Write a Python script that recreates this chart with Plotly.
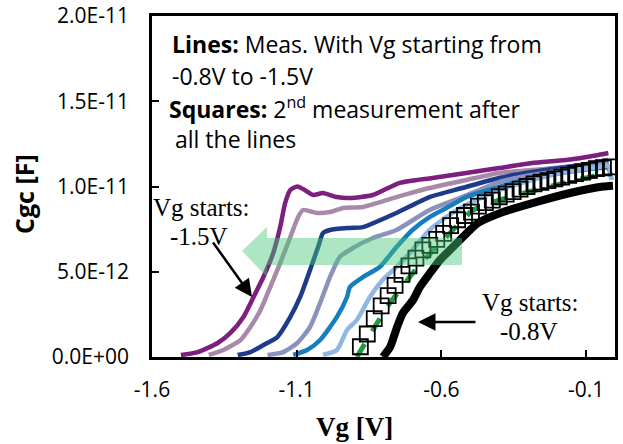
import plotly.graph_objects as go

# ---------------- data (Vg in V, Cgc in units of 1e-12 F) ----------------
vg_p15 = [-1.500, -1.442, -1.373, -1.329, -1.284, -1.249, -1.215, -1.181, -1.157, -1.140, -1.122, -1.098,
          -1.078, -1.043, -1.009, -0.961, -0.916, -0.837, -0.744, -0.631, -0.514, -0.401, -0.287, -0.170,
          -0.057, -0.023]
c_p15 = [0.12, 0.29, 0.82, 1.41, 2.35, 3.52, 4.69, 6.10, 7.62, 9.03, 9.80, 10.00,
         9.85, 9.50, 9.62, 9.38, 9.33, 9.50, 10.21, 10.50, 10.79, 11.08, 11.38, 11.55,
         11.85, 11.96]

vg_p14 = [-1.404, -1.353, -1.294, -1.260, -1.225, -1.191, -1.157, -1.122, -1.095, -1.078, -1.030, -0.985,
          -0.940, -0.871, -0.755, -0.641, -0.514, -0.401, -0.287, -0.170, -0.057, -0.023]
c_p14 = [0.12, 0.41, 1.00, 1.76, 2.76, 4.11, 5.51, 7.04, 8.21, 8.62, 8.45, 8.50,
         8.74, 8.80, 9.38, 9.91, 10.38, 10.79, 10.97, 11.14, 11.44, 11.55]

vg_p13 = [-1.304, -1.260, -1.215, -1.167, -1.122, -1.088, -1.054, -1.026, -1.009, -0.985, -0.916, -0.871,
          -0.755, -0.641, -0.528, -0.401, -0.287, -0.057, -0.023]
c_p13 = [0.12, 0.29, 0.70, 1.17, 2.35, 3.52, 5.10, 6.45, 7.27, 7.45, 7.57, 7.62,
         8.45, 9.38, 9.91, 10.50, 10.85, 11.38, 11.44]

vg_p12 = [-1.201, -1.146, -1.098, -1.054, -1.019, -0.985, -0.951, -0.906, -0.837, -0.755, -0.641, -0.528,
          -0.401, -0.287, -0.057, -0.023]
c_p12 = [0.12, 0.29, 0.82, 1.76, 3.17, 4.69, 5.87, 6.39, 6.98, 7.45, 8.62, 9.38,
         10.26, 10.67, 11.26, 11.32]

vg_p11 = [-1.112, -1.064, -1.019, -0.961, -0.926, -0.916, -0.871, -0.813, -0.755, -0.700, -0.641, -0.583,
          -0.514, -0.401, -0.287, -0.057, -0.023, -0.012]
c_p11 = [0.12, 0.41, 1.00, 2.35, 3.52, 4.11, 4.69, 5.28, 6.45, 7.45, 8.21, 8.74,
         9.38, 9.97, 10.50, 11.08, 11.08, 10.38]

vg_p10 = [-1.009, -0.961, -0.926, -0.892, -0.847, -0.803, -0.755, -0.700, -0.641, -0.583, -0.528, -0.401,
          -0.287, -0.170, -0.057, -0.023, -0.012]
c_p10 = [0.12, 0.41, 1.58, 2.17, 3.52, 4.52, 5.28, 6.28, 7.45, 8.21, 8.80, 9.79,
         10.38, 10.85, 11.14, 11.20, 10.38]

vg_p09 = [-0.892, -0.857, -0.822, -0.788, -0.743, -0.698, -0.650, -0.594, -0.536, -0.491, -0.400, -0.250,
          -0.100, -0.020]
c_p09 = [0.0, 1.00, 1.99, 2.93, 3.93, 4.93, 5.87, 6.86, 7.86, 8.62, 9.20, 9.90,
         10.50, 10.80]

vg_p08 = [-0.802, -0.777, -0.753, -0.733, -0.698, -0.674, -0.639, -0.605, -0.570, -0.536, -0.501, -0.473,
          -0.387, -0.270, -0.155, -0.041, -0.007]
c_p08 = [0.0, 0.59, 1.76, 2.58, 3.34, 4.11, 4.93, 5.69, 6.28, 6.86, 7.45, 7.86,
         8.50, 9.10, 9.62, 10.00, 10.05]

vg_sq = [-0.880, -0.856, -0.832, -0.808, -0.784, -0.760, -0.736, -0.712, -0.688, -0.664, -0.640, -0.616,
         -0.592, -0.568, -0.544, -0.520, -0.496, -0.472, -0.448, -0.424, -0.400, -0.376, -0.352, -0.328,
         -0.304, -0.280, -0.256, -0.232, -0.208, -0.184, -0.160, -0.136, -0.112, -0.088, -0.064, -0.040,
         -0.016]
c_sq = [0.6, 1.35, 2.25, 3.0, 3.6, 4.2, 4.85, 5.35, 5.8, 6.28, 6.55, 6.9,
        7.25, 7.7, 8.05, 8.3, 8.5, 8.85, 9.05, 9.2, 9.4, 9.55, 9.7, 9.85,
        10.0, 10.15, 10.25, 10.35, 10.45, 10.55, 10.65, 10.75, 10.85, 10.95, 11.05, 11.1,
        11.15]

x_ticks = [-1.6, -1.1, -0.6, -0.1]
x_tick_labels = ["-1.6", "-1.1", "-0.6", "-0.1"]
y_ticks = [0, 5e-12, 1e-11, 1.5e-11, 2e-11]
y_tick_labels = ["0.0E+00", "5.0E-12", "1.0E-11", "1.5E-11", "2.0E-11"]

def sc(v):
    return [c * 1e-12 for c in v]

fig = go.Figure()

lines = [
    (vg_p15, c_p15, "#7d1f7f"),
    (vg_p14, c_p14, "#a989a9"),
    (vg_p13, c_p13, "#1d3b89"),
    (vg_p12, c_p12, "#8b93bd"),
    (vg_p11, c_p11, "#167dbf"),
    (vg_p10, c_p10, "#90b6e2"),
]
for xs, ys, col in lines:
    fig.add_trace(go.Scatter(x=xs, y=sc(ys), mode="lines",
                             line=dict(color=col, width=4.5, shape="spline", smoothing=0.6),
                             showlegend=False, hoverinfo="skip"))

fig.add_trace(go.Scatter(x=vg_p08, y=sc(c_p08), mode="lines",
                         line=dict(color="#000000", width=8, shape="spline", smoothing=0.6),
                         showlegend=False, hoverinfo="skip"))
fig.add_trace(go.Scatter(x=vg_p09, y=sc(c_p09), mode="lines",
                         line=dict(color="#1f9a40", width=5, dash="dash", shape="spline", smoothing=0.6),
                         showlegend=False, hoverinfo="skip"))
fig.add_trace(go.Scatter(x=vg_sq, y=sc(c_sq), mode="markers",
                         marker=dict(symbol="square-open", size=15, color="#000000",
                                     line=dict(width=1.8, color="#000000")),
                         showlegend=False, hoverinfo="skip"))

# pixel helpers for decorations
L, R, T, B = 152, 615, 16, 357
def dx(px):
    return -1.6 + (px - L) / (R - L) * 1.6
def dy(py):
    return (B - py) / (B - T) * 2e-11
def pxp(px):
    return (px - L) / (R - L)
def pyp(py):
    return (B - py) / (B - T)

# green translucent wide arrow
pts = [(242, 251), (267, 227), (267, 238), (462, 238), (462, 265), (267, 265), (267, 277)]
path = "M " + " L ".join(f"{dx(a)},{dy(b)}" for a, b in pts) + " Z"
fig.add_shape(type="path", path=path, xref="x", yref="y",
              fillcolor="rgba(70,200,120,0.45)", line=dict(width=0), layer="above")

sans = "'Open Sans', Lato, sans-serif"
times = "'Liberation Serif', 'Times New Roman', serif"
txt = dict(xref="paper", yref="paper", showarrow=False, xanchor="left", yanchor="middle",
           font=dict(family=sans, size=23, color="#000"))
fig.add_annotation(x=pxp(170), y=pyp(44), text="<b>Lines:</b> Meas. With Vg starting from", **txt)
fig.add_annotation(x=pxp(170), y=pyp(76), text="-0.8V to -1.5V", **txt)
fig.add_annotation(x=pxp(167), y=pyp(108), text="<b>Squares:</b> 2<sup>nd</sup> measurement after", **txt)
fig.add_annotation(x=pxp(173), y=pyp(139), text="all the lines", **txt)

vt = dict(xref="paper", yref="paper", showarrow=False, xanchor="center", yanchor="middle",
          font=dict(family=times, size=25, color="#000"))
fig.add_annotation(x=pxp(201), y=pyp(208), text="Vg starts:", **vt)
fig.add_annotation(x=pxp(199), y=pyp(236), text="-1.5V", **vt)
fig.add_annotation(x=pxp(530), y=pyp(302), text="Vg starts:", **vt)
fig.add_annotation(x=pxp(529), y=pyp(331), text="-0.8V", **vt)

# axis titles
fig.add_annotation(x=pxp(354), y=pyp(427), xref="paper", yref="paper", showarrow=False,
                   text="<b>Vg [V]</b>", font=dict(family=times, size=27, color="#000"),
                   xanchor="center", yanchor="middle")
fig.add_annotation(x=pxp(24), y=pyp(194), xref="paper", yref="paper", showarrow=False,
                   text="<b>Cgc [F]</b>", textangle=-90, font=dict(family=sans, size=25, color="#000"),
                   xanchor="center", yanchor="middle")

# arrows
for (tx, ty, hx, hy) in [(212, 241, 252, 297), (477, 322, 418, 322)]:
    fig.add_annotation(x=dx(hx), y=dy(hy), xref="x", yref="y", ax=tx - hx, ay=ty - hy,
                       axref="pixel", ayref="pixel", text="", showarrow=True,
                       arrowhead=2, arrowsize=1.4, arrowwidth=2.5, arrowcolor="#000")

fig.update_layout(
    width=623, height=444,
    margin=dict(l=L, r=623 - R, t=T, b=444 - B, autoexpand=False),
    paper_bgcolor="white", plot_bgcolor="white",
    showlegend=False,
    xaxis=dict(range=[-1.6, 0], tickvals=x_ticks, ticktext=x_tick_labels,
               ticks="inside", ticklen=7, tickwidth=2, tickcolor="#000",
               showline=True, linecolor="#000", linewidth=2.5, mirror=True,
               showgrid=False, zeroline=False, automargin=False, ticklabelstandoff=12,
               tickfont=dict(family=sans, size=21, color="#000")),
    yaxis=dict(range=[0, 2e-11], tickvals=y_ticks, ticktext=y_tick_labels,
               ticks="inside", ticklen=7, tickwidth=2, tickcolor="#000",
               showline=True, linecolor="#000", linewidth=2.5, mirror=True,
               showgrid=False, zeroline=False, automargin=False, ticklabelstandoff=16,
               tickfont=dict(family=sans, size=21, color="#000")),
)

fig.write_html("out.html", config={"displayModeBar": False},
               post_script="document.body.style.margin='0px';document.body.style.padding='0px';")
